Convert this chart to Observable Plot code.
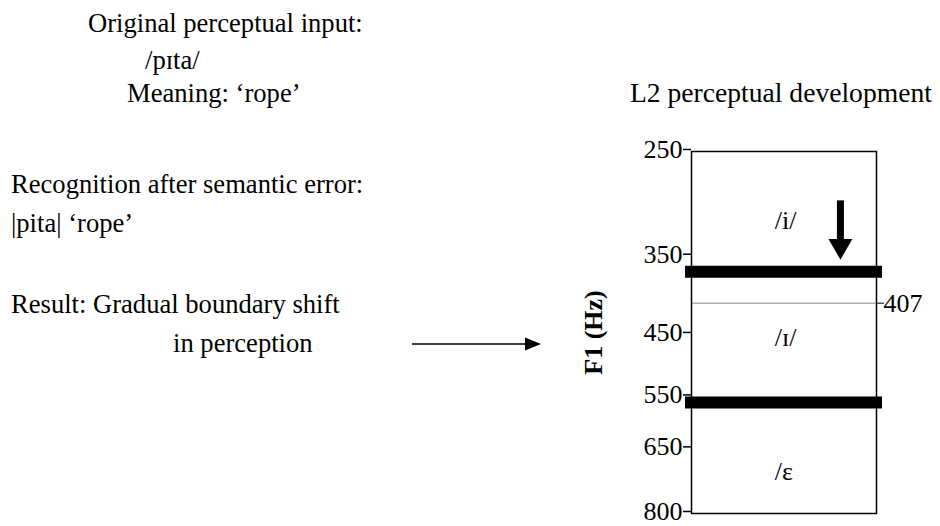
<!DOCTYPE html>
<html>
<head>
<meta charset="utf-8">
<script src="https://cdn.jsdelivr.net/npm/d3@7"></script>
<script src="https://cdn.jsdelivr.net/npm/@observablehq/plot@0.6"></script>
<style>
  html, body { margin: 0; padding: 0; background: white; }
  #wrap { position: relative; width: 940px; height: 526px; overflow: hidden; background: white; }
  #wrap > svg { position: absolute; left: 0; top: 0; }
  #notes { pointer-events: none; font-family: "Liberation Serif", serif; }
</style>
</head>
<body>
<div id="wrap"></div>
<script>
// ---- data ----
const yTicks = [250, 350, 450, 550, 650, 800];      // F1 axis ticks (Hz)
const boundaries = [368, 560];                        // category boundaries (Hz)
const referenceF1 = [407];                            // reference line (Hz)
const vowels = ["/i/", "/ɪ/", "/ɛ"];                  // category labels
const vowelF1 = [312, 455, 700];                      // label positions (Hz)
const shiftArrowF1 = [293, 354];                      // boundary shift arrow, from -> to (Hz)
const chartTitle = "L2 perceptual development";
const axisLabel = "F1 (Hz)";
const noteLines = [
  "Original perceptual input:",
  "/pɪta/",
  "Meaning: ‘rope’",
  "Recognition after semantic error:",
  "|pita| ‘rope’",
  "Result: Gradual boundary shift",
  "in perception"
];

// ---- chart ----
const labelX = 0.45, arrowX = 0.805;
const chart = Plot.plot({
  width: 940,
  height: 526,
  marginLeft: 691,
  marginRight: 64,
  marginTop: 151,
  marginBottom: 13,
  style: {fontFamily: "Liberation Serif", fontSize: "26px", background: "transparent", color: "black", overflow: "visible"},
  x: {domain: [0, 1], axis: null},
  y: {type: "log", domain: [250, 800], reverse: true, axis: null},
  marks: [
    Plot.frame({stroke: "black", strokeWidth: 1.5}),
    Plot.ruleY(referenceF1, {stroke: "#333", strokeWidth: 0.6}),
    Plot.ruleY(boundaries, {stroke: "black", strokeWidth: 12, strokeLinecap: "square"}),
    Plot.text(vowels, {x: () => labelX, y: (d, i) => vowelF1[i], text: d => d, textAnchor: "start", fontSize: 26}),
    Plot.ruleX([shiftArrowF1], {x: () => arrowX, y1: d => d[0], y2: d => (d[0] + d[1] * 2) / 3 + 6, stroke: "black", strokeWidth: 7}),
    Plot.dot([shiftArrowF1], {x: () => arrowX, y: d => d[1], symbol: "triangle", r: 8.9, rotate: 180, dy: -13.9, fill: "black", stroke: "none"}),
    Plot.axisY(yTicks, {anchor: "left", tickSize: 8, tickPadding: 1, strokeWidth: 1.5, tickFormat: d => String(d), fontSize: 26, dy: -2, label: null}),
    Plot.axisY(referenceF1, {anchor: "right", tickSize: 7, tickPadding: 0, strokeWidth: 1, tickFormat: d => String(d), fontSize: 26, label: null}),
    Plot.text([axisLabel], {frameAnchor: "left", dx: -98, rotate: -90, text: d => d, fontWeight: "bold", fontSize: 26, textAnchor: "middle", lineAnchor: "middle"})
  ]
});
document.getElementById("wrap").appendChild(chart);

// ---- annotations (left side and title) ----
const ns = "http://www.w3.org/2000/svg";
const notes = document.createElementNS(ns, "svg");
notes.setAttribute("id", "notes");
notes.setAttribute("width", 940);
notes.setAttribute("height", 526);
const place = [
  [88, 32], [145, 69], [127, 102], [11, 193], [11, 232], [11, 313], [173, 352]
];
noteLines.forEach((t, i) => {
  const el = document.createElementNS(ns, "text");
  el.setAttribute("x", place[i][0]);
  el.setAttribute("y", place[i][1]);
  el.setAttribute("font-size", 26.6);
  el.textContent = t;
  notes.appendChild(el);
});
const title = document.createElementNS(ns, "text");
title.setAttribute("x", 630);
title.setAttribute("y", 102);
title.setAttribute("font-size", 27.6);
title.textContent = chartTitle;
notes.appendChild(title);
const line = document.createElementNS(ns, "line");
line.setAttribute("x1", 412); line.setAttribute("x2", 528);
line.setAttribute("y1", 344); line.setAttribute("y2", 344);
line.setAttribute("stroke", "black"); line.setAttribute("stroke-width", 1.6);
notes.appendChild(line);
const head = document.createElementNS(ns, "path");
head.setAttribute("d", "M525,337.5 L541,344 L525,350.5 Z");
head.setAttribute("fill", "black");
notes.appendChild(head);
document.getElementById("wrap").appendChild(notes);
</script>
</body>
</html>
